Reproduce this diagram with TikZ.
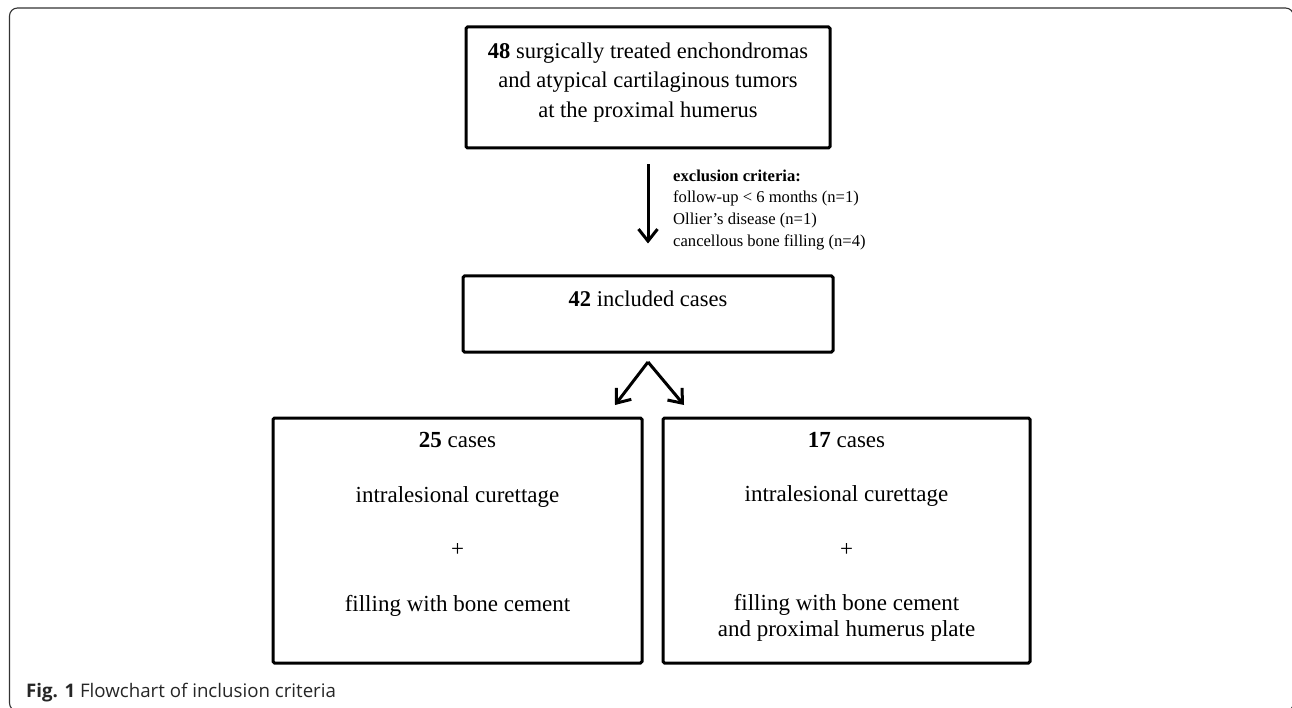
\documentclass[tikz,border=0pt]{standalone}
\usepackage{fontspec}
\setmainfont{Liberation Serif}
\newfontfamily\captionfont{Open Sans}
\usetikzlibrary{arrows.meta}

\newcommand{\boxfont}{\fontsize{22.5}{29.5}\selectfont}
\newcommand{\casefont}{\fontsize{23}{26}\selectfont}
\newcommand{\exclfont}{\fontsize{16.6}{21.7}\selectfont}

\begin{document}
\begin{tikzpicture}[x=1pt, y=-1pt,
    casebox/.style={draw, line width=3pt, rounded corners=1.5pt, inner sep=0pt},
    flowarrow/.style={-{Straight Barb[length=12pt, width=19pt]}, line width=3pt},
    ]
    \useasboundingbox (0,0) rectangle (1292,708);
    \draw[rounded corners=8pt, line width=1.1pt, black!80] (9.5,8) rectangle (1293.5,711);

    % boxes
    \node(total) at (648,87.5) [casebox, minimum width=364pt, minimum height=121pt] {};
    \node(included) at (648,314) [casebox, minimum width=370pt, minimum height=76pt] {};
    \node(cement) at (457.5,540.5) [casebox, minimum width=369pt, minimum height=245pt] {};
    \node(plate) at (846.5,540.5) [casebox, minimum width=367pt, minimum height=245pt] {};

    % texts
    \node(total_text) at (648,42.6) [anchor=north, inner sep=0pt, align=center, font=\boxfont] {\textbf{48} surgically treated enchondromas\\ and atypical cartilaginous tumors\\ at the proximal humerus};
    \node(included_text) at (648,307) [anchor=base, inner sep=0pt, font=\boxfont] {\textbf{42} included cases};
    \node(cement_text) at (457.5,432.5) [anchor=north, inner sep=0pt, align=center, font=\casefont] {\textbf{25} cases\\[28.5pt] intralesional curettage\\[28.5pt] +\\[28.5pt] filling with bone cement};
    \node(plate_text) at (846.5,432) [anchor=north, inner sep=0pt, align=center, font=\casefont] {\textbf{17} cases\\[28.5pt] intralesional curettage\\[28.5pt] +\\[28.5pt] filling with bone cement\\ and proximal humerus plate};
    \node(exclusion) at (673,169.3) [anchor=north west, inner sep=0pt, align=left, font=\exclfont] {\textbf{exclusion criteria:}\\ follow-up \textless{} 6 months (n=1)\\ Ollier’s disease (n=1)\\ cancellous bone filling (n=4)};

    % arrows
    \coordinate(split) at (648,362);
    \coordinate(split_left) at (615,405);
    \coordinate(split_right) at (684,405);
    \draw[flowarrow, shorten <=15pt, shorten >=31pt] (total) -- (included);
    \draw[flowarrow] (split) -- (split_left);
    \draw[flowarrow] (split) -- (split_right);

    \node(caption) at (26,697) [anchor=base west, inner sep=0pt, font=\captionfont\fontsize{18.7}{22}\selectfont, text=black!85] {\textbf{Fig. 1} Flowchart of inclusion criteria};
\end{tikzpicture}
\end{document}
